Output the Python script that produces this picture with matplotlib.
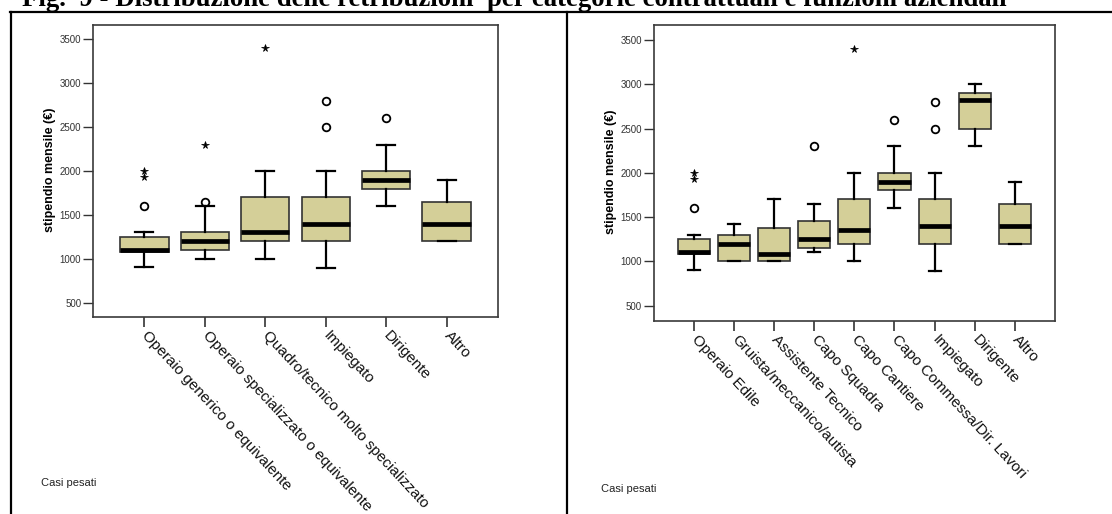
import matplotlib
matplotlib.use("Agg")
import matplotlib.pyplot as plt
from matplotlib.lines import Line2D

plt.rcParams['font.family'] = ['Liberation Sans', 'DejaVu Sans']

W, H = 1112, 514

titolo = "Fig.  9 - Distribuzione delle retribuzioni  per categorie contrattuali e funzioni aziendali"

# pannello sinistro: categorie contrattuali
cat_sx = ["Operaio generico o equivalente", "Operaio specializzato o equivalente",
          "Quadro/tecnico molto specializzato", "Impiegato", "Dirigente", "Altro"]
min_sx = [900, 1000, 1000, 890, 1600, 1200]
q1_sx = [1080, 1100, 1200, 1200, 1800, 1200]
med_sx = [1100, 1200, 1300, 1400, 1900, 1400]
q3_sx = [1250, 1300, 1700, 1700, 2000, 1650]
max_sx = [1300, 1600, 2000, 2000, 2300, 1900]
cerchi_sx = [[1600], [1650], [], [2500, 2800], [2600], []]
stelle_sx = [[1930, 2000], [2300], [3400], [], [], []]

# pannello destro: funzioni aziendali
cat_dx = ["Operaio Edile", "Gruista/meccanico/autista", "Assistente Tecnico", "Capo Squadra",
          "Capo Cantiere", "Capo Commessa/Dir. Lavori", "Impiegato", "Dirigente", "Altro"]
min_dx = [900, 1000, 1000, 1100, 1000, 1600, 890, 2300, 1200]
q1_dx = [1080, 1000, 1000, 1150, 1200, 1800, 1200, 2500, 1200]
med_dx = [1100, 1200, 1080, 1250, 1350, 1900, 1400, 2820, 1400]
q3_dx = [1250, 1300, 1375, 1450, 1700, 2000, 1700, 2900, 1650]
max_dx = [1300, 1420, 1700, 1650, 2000, 2300, 2000, 3000, 1900]
cerchi_dx = [[1600], [], [], [2300], [], [2600], [2500, 2800], [], []]
stelle_dx = [[1930, 2000], [], [], [], [3400], [], [], [], []]

y_ticks = [500, 1000, 1500, 2000, 2500, 3000, 3500]

BOX_COL = "#d4cf98"


def pannello(ax, cat, mins, q1, med, q3, maxs, cerchi, stelle, xlim, ylim):
    stats = []
    for i in range(len(cat)):
        stats.append(dict(med=med[i], q1=q1[i], q3=q3[i],
                          whislo=mins[i], whishi=maxs[i], fliers=[]))
    pos = list(range(1, len(cat) + 1))
    ax.bxp(stats, positions=pos, widths=0.8, patch_artist=True, showfliers=False,
           capwidths=0.3,
           boxprops=dict(facecolor=BOX_COL, edgecolor="#333333", linewidth=1.2),
           medianprops=dict(color="black", linewidth=3.4, solid_capstyle="butt"),
           whiskerprops=dict(color="black", linewidth=1.6),
           capprops=dict(color="black", linewidth=1.6))
    for i in range(len(cat)):
        if cerchi[i]:
            ax.plot([pos[i]] * len(cerchi[i]), cerchi[i], 'o', mfc='none', mec='black',
                    ms=5.5, mew=1.3)
        if stelle[i]:
            ax.plot([pos[i]] * len(stelle[i]), stelle[i], '*', color='black', ms=5.5, mew=0.5)
    ax.set_xlim(*xlim)
    ax.set_ylim(*ylim)
    ax.set_yticks(y_ticks)
    ax.set_yticklabels([str(v) for v in y_ticks], fontsize=7, color="#333333")
    ax.set_xticks(pos)
    ax.set_xticklabels(cat, rotation=-47, ha='left', va='center', rotation_mode='anchor',
                       fontsize=11, color="#111111")
    ax.tick_params(axis='x', length=7, width=1.2, pad=5, color="#333333")
    ax.tick_params(axis='y', length=7, width=1.0, pad=1.5, color="#333333")
    for sp in ax.spines.values():
        sp.set_color("#3a3a3a")
        sp.set_linewidth(1.2)


fig = plt.figure(figsize=(W / 100, H / 100), dpi=100)

ax1 = fig.add_axes([93 / W, 1 - 317 / H, 405 / W, 292 / H])
pannello(ax1, cat_sx, min_sx, q1_sx, med_sx, q3_sx, max_sx, cerchi_sx, stelle_sx,
         (0.15, 6.85), (336, 3663))

ax2 = fig.add_axes([653.7 / W, 1 - 320.7 / H, 401.3 / W, 296 / H])
pannello(ax2, cat_dx, min_dx, q1_dx, med_dx, q3_dx, max_dx, cerchi_dx, stelle_dx,
         (0.0, 10.0), (329, 3673))

fig.text(50 / W, 1 - 170 / H, "stipendio mensile (€)", rotation=90, ha='center', va='center',
         fontsize=9, fontweight='bold')
fig.text(611 / W, 1 - 172 / H, "stipendio mensile (€)", rotation=90, ha='center', va='center',
         fontsize=9, fontweight='bold')
fig.text(41 / W, 1 - 483 / H, "Casi pesati", va='center', fontsize=8, color="#222222")
fig.text(601 / W, 1 - 489 / H, "Casi pesati", va='center', fontsize=8, color="#222222")

# titolo tagliato in alto come nell'originale
fig.text(22 / W, 1 - 6.5 / H, titolo, family=['Liberation Serif', 'DejaVu Serif'],
         fontweight='bold', fontsize=19.3, va='baseline')

# cornici esterne
fig.add_artist(Line2D([10 / W, 1], [1 - 12 / H] * 2, transform=fig.transFigure,
                      color='black', lw=1.6))
fig.add_artist(Line2D([10.5 / W] * 2, [0, 1 - 12 / H], transform=fig.transFigure,
                      color='black', lw=1.6))
fig.add_artist(Line2D([566.5 / W] * 2, [0, 1 - 12 / H], transform=fig.transFigure,
                      color='black', lw=1.6))

fig.savefig("out.png", dpi=100)
